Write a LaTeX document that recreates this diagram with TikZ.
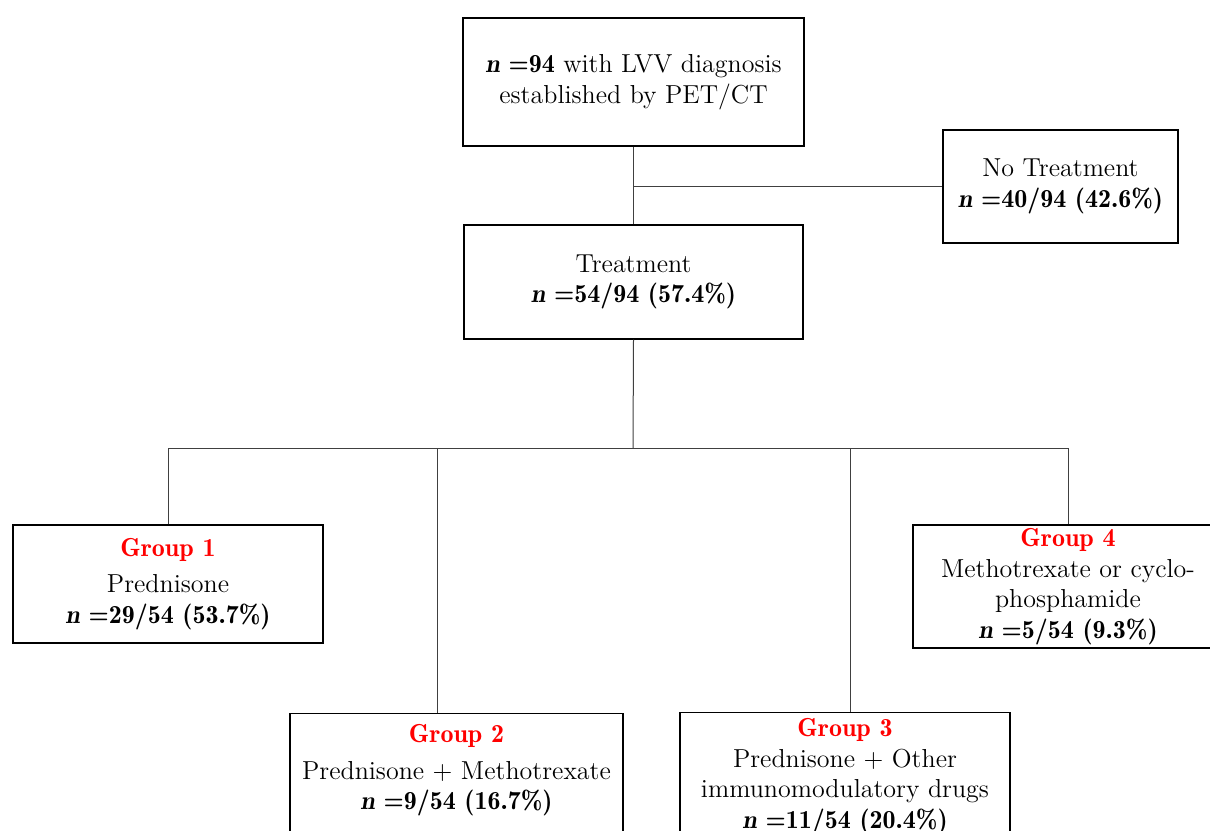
\documentclass[tikz,border=0pt]{standalone}
\usetikzlibrary{positioning}

\begin{document}
\begin{tikzpicture}[x=0.5pt,y=-0.5pt]%
        \tikzset{%
            box/.style={draw=black, line width=0.6pt, inner sep=0pt, align=center,
                font=\fontsize{13}{15.3}\selectfont},
            link/.style={draw=black!75, line width=0.5pt},
        }%
        \newcommand{\grp}[1]{\textcolor{red}{\fontseries{b}\selectfont Group #1}}%
        \newcommand{\nval}[1]{{\fontseries{b}\selectfont\textit{n} =#1}}%
        \clip (0,0) rectangle (1210,830);
        \node[box, minimum width=170.5pt, minimum height=64pt] (top) at (633.5,82)
            {\nval{94} with LVV diagnosis\\established by PET/CT};
        \node[box, minimum width=117.5pt, minimum height=56.5pt] (notreat) at (1060.5,186.5)
            {No Treatment\\\nval{40/94 (42.6\%)}};
        \node[box, minimum width=169.5pt, minimum height=57pt] (treat) at (633.5,282)
            {Treatment\\\nval{54/94 (57.4\%)}};
        \node[box, minimum width=155pt, minimum height=59pt] (g1) at (168,584)
            {\grp{1}\\[3pt]Prednisone\\\nval{29/54 (53.7\%)}};
        \node[box, minimum width=166.5pt, minimum height=69pt, anchor=north] (g2) at (456.5,713)
            {\grp{2}\\[3pt]Prednisone + Methotrexate\\\nval{9/54 (16.7\%)}\\~};
        \node[box, minimum width=165pt, minimum height=64pt, anchor=north] (g3) at (845,712)
            {\grp{3}\\Prednisone + Other\\immunomodulatory drugs\\\nval{11/54 (20.4\%)}};
        \node[box, minimum width=155pt, minimum height=61.5pt] (g4) at (1068,586.5)
            {\grp{4}\\Methotrexate or cyclo-\\phosphamide\\\nval{5/54 (9.3\%)}};
        % junctions
        \coordinate (split) at (633,448);
        \coordinate (d2) at (437,448);
        \coordinate (d3) at (850,448);
        \draw[link] (top) -- (treat);
        \draw[link] (top.south |- notreat.west) -- (notreat.west);
        \draw[link] (treat.south) -- (split);
        \draw[link] (g1.north) |- (g4.north |- split) -- (g4.north);
        \draw[link] (d2) -- (d2 |- g2.north);
        \draw[link] (d3) -- (d3 |- g3.north);
    \end{tikzpicture}
\end{document}
